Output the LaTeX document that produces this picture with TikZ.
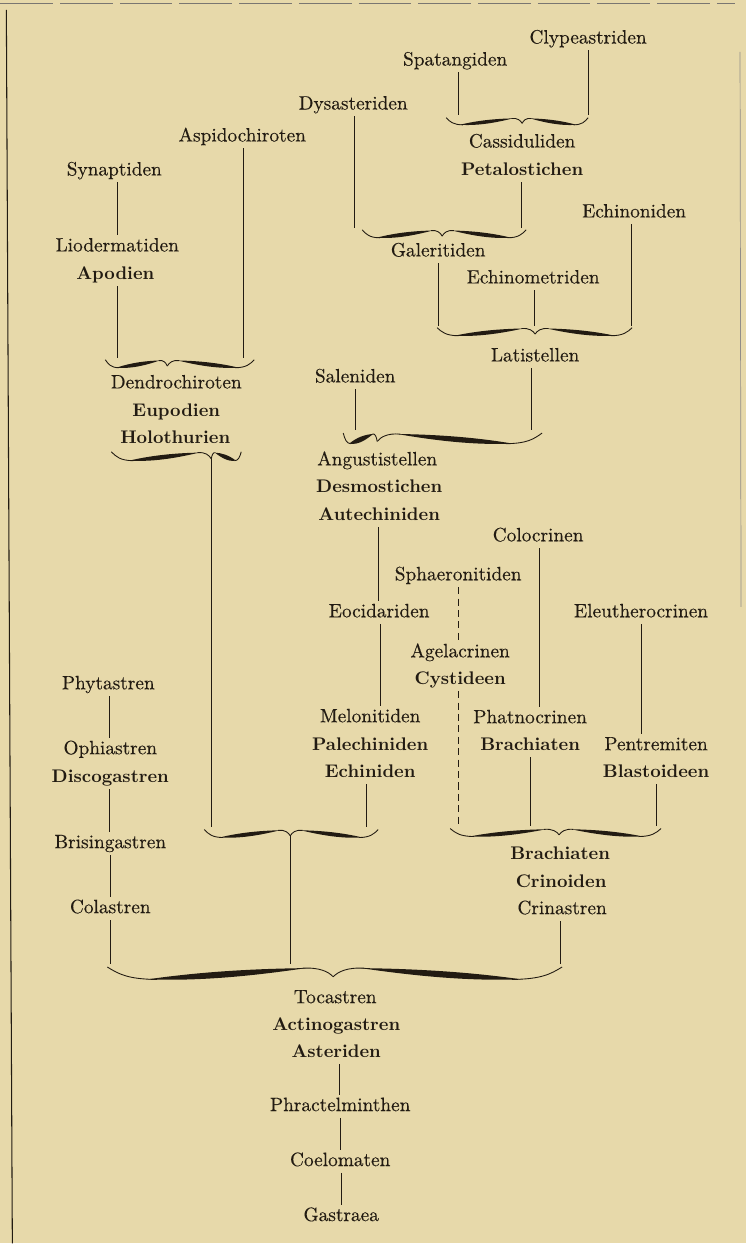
\documentclass[tikz,border=0pt]{standalone}
\usepackage{fontspec}
\newfontfamily\darkrm{lmroman10-regular.otf}[FakeBold=0.25]
\definecolor{paper}{RGB}{231,217,170}
\definecolor{ink}{RGB}{34,27,18}
%% one half of a curly brace, end at (0,0), tip at (1,0.8)
\newcommand{\bracearm}{%
  \fill[ink] (0.18,0.98) .. controls (0.45,1.15) and (0.72,0.55) .. (0.88,0.18)
    .. controls (0.66,0.22) and (0.42,0.42) .. (0.18,0.98) -- cycle;
  \draw[ink,line width=0.5pt] (0,0.1) .. controls (0.05,0.6) and (0.09,0.97) .. (0.22,0.99);
  \draw[ink,line width=0.5pt] (0.86,0.19) .. controls (0.94,0.1) and (0.98,0.45) .. (1,0.8);
}
%% brace: left end, tip, right end, top, depth
\newcommand{\klammer}[5]{%
  \begin{scope}[shift={(#1,#4)},xscale=#2-#1,yscale=#5]\bracearm\end{scope}
  \begin{scope}[shift={(#3,#4)},xscale=#2-#3,yscale=#5]\bracearm\end{scope}
}
\begin{document}
\begin{tikzpicture}
[x=0.02cm,y=-0.02cm,
  taxon/.style={text=ink,inner sep=2pt,text height=1.6ex,text depth=0.4ex,
    font=\darkrm\fontsize{11}{13}\selectfont},%
  group/.style={taxon,font=\fontsize{10.4}{13}\selectfont\bfseries},%
  joint/.style={inner sep=0pt,minimum size=0pt},%
  stem/.style={draw=ink,line width=0.45pt},%
  faintstem/.style={stem,line width=0.4pt,dash pattern=on 4pt off 2.5pt}]
%% paper and page edges
\fill[paper] (0,0) rectangle (746,1244);
\draw[ink,line width=0.6pt] (6,10) -- (12,1244);
\draw[ink!60,line width=0.4pt,dash pattern=on 30pt off 4pt] (0,3) -- (735,3);
\draw[ink!50,line width=0.4pt] (740,52) -- (741,607);
%% names
\foreach \nodename/\x/\y/\txt in {
  clyp/588/39/Clypeastriden, spat/455/61/Spatangiden, dysa/353/105/Dysasteriden,
  aspi/242/137/Aspidochiroten, cass/522/143/Cassiduliden, synap/114/171/Synaptiden,
  echinon/634/213/Echinoniden, lioder/117/247/Liodermatiden, galer/438/252/Galeritiden,
  echinom/533/279/Echinometriden, latist/535/357/Latistellen, saleni/355/378/Saleniden,
  dendro/176/384/Dendrochiroten, angust/377/461/Angustistellen, coloc/538/537/Colocrinen,
  sphaer/458/576/Sphaeronitiden, eocid/379/613/Eocidariden, eleuth/641/613/Eleutherocrinen,
  agel/460/653/Agelacrinen, phyt/108/685/Phytastren, melon/370/718/Melonitiden,
  phatno/530/719/Phatnocrinen, pentre/656/746/Pentremiten, ophi/110/750/Ophiastren,
  brisin/110/844/Brisingastren, colast/110/909/Colastren, crinast/562/910/Crinastren,
  tocast/335/999/Tocastren, phract/340/1107/Phractelminthen, coelom/340/1162/Coelomaten,
  gastr/341/1217/Gastraea}
{
  \node (\nodename) at (\x,\y) [taxon] {\txt};
}
\foreach \nodename/\x/\y/\txt in {
  petalo/522/171/Petalostichen, apod/115/275/Apodien, eupod/176/412/Eupodien,
  holot/175/439/Holothurien, desmo/379/488/Desmostichen, autech/379/516/Autechiniden,
  cyst/460/680/Cystideen, palech/370/746/Palechiniden, brach/530/746/Brachiaten,
  discog/110/778/Discogastren, echinid/370/773/Echiniden, blast/656/773/Blastoideen,
  brachb/560/855/Brachiaten, crino/561/883/Crinoiden, actino/336/1026/Actinogastren,
  aster/336/1053/Asteriden}
{
  \node (\nodename) at (\x,\y) [group] {\txt};
}
%% braces
\foreach \xl/\xc/\xr/\yt/\hd in {
  446/522/588/117/8, 362/442/526/229/9, 437/535/632/327/9, 105/167/254/359/9,
  111/211/241/451/10, 343/377/542/432/12, 204/290/378/829/9, 450/559/661/828/9,
  107/333/562/966/14}
{
  \klammer{\xl}{\xc}{\xr}{\yt}{\hd}
}
%% where the stems meet the braces
\foreach \jname/\x/\y in {
  j1a/458/115, j1b/588/115, j2a/354/228, j2b/521/228, j3a/438/326, j3b/534/326,
  j3c/631/326, j4a/117/358, j4b/243/358, j5c/211/459, j6a/355/431, j6b/531/431,
  j7a/211/828, j7b/366/828, j7c/290/836, j8a/458/827, j8b/530/827, j8c/656/827,
  j9a/110/965, j9b/290/965, j9c/560/965}
{
  \node (\jname) at (\x,\y) [joint] {};
}
%% stems
\foreach \x/\startnode/\endnode in {
  458/spat/j1a, 588/clyp/j1b, 354/dysa/j2a, 521/petalo/j2b, 438/galer/j3a,
  534/echinom/j3b, 631/echinon/j3c, 117/synap/lioder, 117/apod/j4a, 243/aspi/j4b,
  355/saleni/j6a, 531/latist/j6b, 211/j5c/j7a, 366/echinid/j7b, 378/autech/eocid,
  380/eocid/melon, 539/coloc/phatno, 641/eleuth/pentre, 530/brach/j8b, 656/blast/j8c,
  109/phyt/ophi, 109/discog/brisin, 110/brisin/colast, 110/colast/j9a, 290/j7c/j9b,
  560/crinast/j9c, 339/aster/phract, 340/phract/coelom, 341/coelom/gastr}
{
  \draw[stem] (\x,0 |- \startnode.south) -- (\x,0 |- \endnode.north);
}
\foreach \x/\startnode/\endnode in {458/sphaer/agel, 458/cyst/j8a}
{
  \draw[faintstem] (\x,0 |- \startnode.south) -- (\x,0 |- \endnode.north);
}
\end{tikzpicture}
\end{document}
